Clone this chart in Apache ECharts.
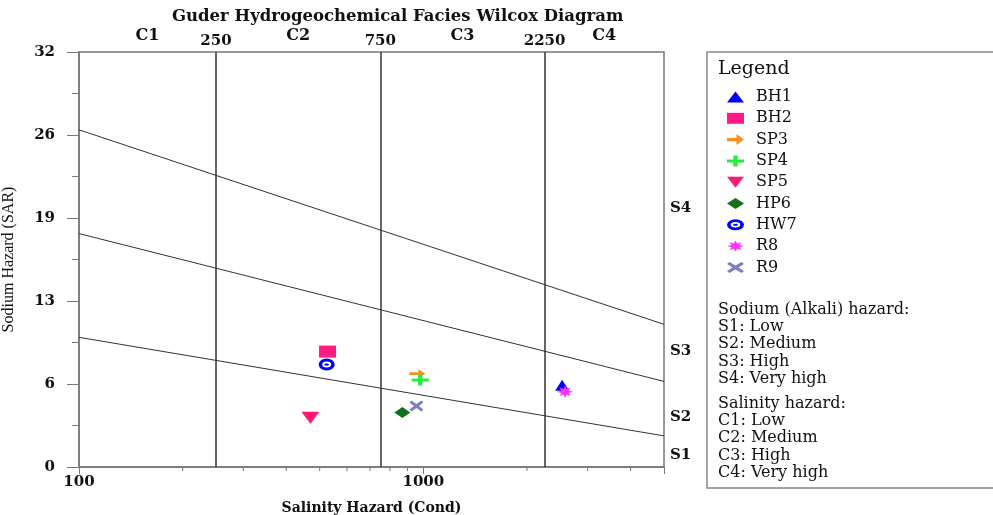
<!DOCTYPE html>
<html>
<head>
<meta charset="utf-8">
<title>Wilcox Diagram</title>
<script src="https://cdn.jsdelivr.net/npm/echarts@6/dist/echarts.min.js"></script>
<style>
html, body { margin: 0; padding: 0; background: #fff; }
#main { width: 993px; height: 515px; }
</style>
</head>
<body>
<div id="main"></div>
<script>
// samples: conductivity (x, log) and SAR (y)
var sampleNames = ['BH1', 'BH2', 'SP3', 'SP4', 'SP5', 'HP6', 'HW7', 'R8', 'R9'];
var sampleCond = [2530, 527, 961, 979, 470, 869, 524, 2580, 955];
var sampleSar = [6.3, 8.9, 7.2, 6.7, 3.8, 4.2, 7.9, 5.8, 4.7];

// salinity classes
var condRange = [100, 5000];
var salinityBounds = [250, 750, 2250];
var salinityZones = ['C1', 'C2', 'C3', 'C4'];

// sodium class boundaries: SAR at the left (100) and right (5000) ends
var sodiumLeft = [10, 18, 26];
var sodiumRight = [2.4, 6.6, 11];
var sodiumZones = ['S1', 'S2', 'S3', 'S4'];
var sodiumLabelSar = [0.9, 3.85, 8.9, 20];

// ticks
var yTickLabels = ['0', '6', '13', '19', '26', '32'];
var xMajorLabels = [100, 1000];
var xMinorTicks = [200, 300, 400, 500, 600, 700, 800, 900, 2000, 3000, 4000];

var serif = 'DejaVu Serif';
var ink = '#111';

// 8 point star
function starPath(n, r1, r2) {
    var d = 'path://';
    for (var i = 0; i < n * 2; i++) {
        var r = i % 2 ? r2 : r1;
        var a = Math.PI * i / n - Math.PI / 2;
        d += (i ? 'L' : 'M') + (10 + r * Math.cos(a)).toFixed(2) + ',' + (10 + r * Math.sin(a)).toFixed(2);
    }
    return d + 'Z';
}

var symbols = [
    'triangle',
    'rect',
    'path://M0,3.5 L9,3.5 L9,0 L16,5 L9,10 L9,6.5 L0,6.5 Z',
    'path://M6,0 L10,0 L10,4 L16,4 L16,7 L10,7 L10,11 L6,11 L6,7 L0,7 L0,4 L6,4 Z',
    'path://M0,0 L16,0 L8,11 Z',
    'diamond',
    'path://M8,0 A8,6 0 1,1 8,12 A8,6 0 1,1 8,0 Z M8,3 A4.5,3 0 1,0 8,9 A4.5,3 0 1,0 8,3 Z M8,5 A1.6,1.1 0 1,1 8,7 A1.6,1.1 0 1,1 8,5 Z',
    starPath(8, 10, 5),
    'path://M2,0 L7,3.5 L12,0 L14,2 L9.5,5.5 L14,9 L12,11 L7,7.5 L2,11 L0,9 L4.5,5.5 L0,2 Z'
];
var symbolSizes = [[14, 11], [17, 12], [16, 9], [17, 11], [18, 12], [16, 11], [16, 12], [16, 12], [14, 11]];
var colors = ['#0000ff', '#ff1a84', '#ff8a1f', '#22f03a', '#ff1a75', '#11701a', '#0000ff', '#ff33ff', '#7d7dc8'];

var myChart = echarts.init(document.getElementById('main'));

var series = [];

// sodium boundary lines
sodiumLeft.forEach(function (v, i) {
    series.push({
        type: 'line',
        silent: true,
        symbol: 'none',
        data: [[condRange[0], v], [condRange[1], sodiumRight[i]]],
        lineStyle: { color: '#333', width: 1 },
        z: 2
    });
});

// salinity boundary lines + their labels
series.push({
    type: 'line',
    data: [],
    silent: true,
    markLine: {
        silent: true,
        symbol: 'none',
        lineStyle: { color: '#333', width: 1.5, type: 'solid' },
        label: {
            show: true,
            position: 'end',
            distance: 3,
            fontFamily: serif,
            fontWeight: 'bold',
            fontSize: 15,
            color: ink,
            formatter: function (p) { return String(p.value); }
        },
        data: salinityBounds.map(function (b) { return { xAxis: b }; })
    }
});

// C zone labels (top)
var zoneEdges = [condRange[0]].concat(salinityBounds, [condRange[1]]);
series.push({
    type: 'scatter',
    silent: true,
    symbolSize: 0,
    itemStyle: { opacity: 1 },
    data: salinityZones.map(function (z, i) {
        return { value: [Math.sqrt(zoneEdges[i] * zoneEdges[i + 1]), 32], name: z };
    }),
    label: {
        show: true,
        position: 'top',
        distance: 8,
        formatter: '{b}',
        fontFamily: serif,
        fontWeight: 'bold',
        fontSize: 16,
        color: ink,
        opacity: 1
    },
    z: 5
});

// S zone labels (right)
series.push({
    type: 'scatter',
    silent: true,
    symbolSize: 0,
    itemStyle: { opacity: 1 },
    data: sodiumZones.map(function (z, i) {
        return { value: [condRange[1], sodiumLabelSar[i]], name: z };
    }),
    label: {
        show: true,
        position: 'right',
        distance: 6,
        formatter: '{b}',
        fontFamily: serif,
        fontWeight: 'bold',
        fontSize: 15,
        color: ink,
        opacity: 1
    },
    z: 5
});

// minor ticks on the log axis
series.push({
    type: 'custom',
    silent: true,
    data: xMinorTicks.map(function (v) { return [v, 0]; }),
    renderItem: function (params, api) {
        var p = api.coord([api.value(0), 0]);
        return {
            type: 'line',
            shape: { x1: p[0], y1: p[1], x2: p[0], y2: p[1] + 4 },
            style: { stroke: '#777', lineWidth: 1 }
        };
    },
    z: 3
});

// samples
sampleNames.forEach(function (name, i) {
    series.push({
        name: name,
        type: 'scatter',
        symbol: symbols[i],
        symbolSize: symbolSizes[i],
        symbolKeepAspect: false,
        itemStyle: { color: colors[i], opacity: 1 },
        data: [[sampleCond[i], sampleSar[i]]],
        z: 10
    });
});

myChart.setOption({
    animation: false,
    backgroundColor: '#fff',
    title: {
        text: 'Guder Hydrogeochemical Facies Wilcox Diagram',
        left: 172,
        top: 8,
        padding: 0,
        textStyle: { fontFamily: serif, fontWeight: 'bold', fontSize: 16.5, color: ink }
    },
    grid: {
        left: 79, top: 52, width: 585, height: 415,
        show: true,
        borderColor: '#777',
        borderWidth: 1.5,
        containLabel: false,
        outerBoundsMode: 'none'
    },
    legend: {
        data: sampleNames,
        orient: 'vertical',
        left: 727,
        top: 89,
        padding: 0,
        itemWidth: 17,
        itemHeight: 11,
        itemGap: 5.3,
        symbolKeepAspect: false,
        selectedMode: false,
        textStyle: { fontFamily: serif, fontSize: 16, color: ink, padding: [0, 0, 0, 7] }
    },
    graphic: [
        {
            type: 'rect',
            silent: true,
            shape: { x: 707, y: 52, width: 300, height: 436 },
            style: { fill: 'none', stroke: '#888', lineWidth: 1.5 }
        },
        {
            type: 'text',
            left: 718, top: 60,
            style: { text: 'Legend', font: '19px "DejaVu Serif"', fill: ink }
        },
        {
            type: 'text',
            left: 718, top: 301,
            style: {
                text: 'Sodium (Alkali) hazard:\nS1: Low\nS2: Medium\nS3: High\nS4: Very high',
                font: '16px "DejaVu Serif"', lineHeight: 17.3, fill: ink
            }
        },
        {
            type: 'text',
            left: 718, top: 395,
            style: {
                text: 'Salinity hazard:\nC1: Low\nC2: Medium\nC3: High\nC4: Very high',
                font: '16px "DejaVu Serif"', lineHeight: 17.3, fill: ink
            }
        }
    ],
    xAxis: {
        type: 'log',
        logBase: 10,
        min: condRange[0],
        max: condRange[1],
        name: 'Salinity Hazard (Cond)',
        nameLocation: 'middle',
        nameGap: 34,
        nameTextStyle: { fontFamily: serif, fontWeight: 'bold', fontSize: 14, color: ink },
        axisLine: { lineStyle: { color: '#777', width: 1.5 } },
        axisTick: { length: 7, lineStyle: { color: '#777' } },
        axisLabel: {
            margin: 8,
            fontFamily: serif,
            fontWeight: 'bold',
            fontSize: 15,
            color: ink,
            formatter: function (v) { return xMajorLabels.indexOf(Math.round(v)) > -1 ? String(Math.round(v)) : ''; }
        },
        splitLine: { show: false }
    },
    yAxis: {
        type: 'value',
        min: 0,
        max: 32,
        interval: 6.4,
        name: 'Sodium Hazard (SAR)',
        nameLocation: 'middle',
        nameGap: 62,
        nameTextStyle: { fontFamily: 'Liberation Serif', fontSize: 16, color: ink },
        axisLine: { show: true, lineStyle: { color: '#777', width: 1.5 } },
        axisTick: { show: true, length: 12, lineStyle: { color: '#777' } },
        minorTick: { show: true, splitNumber: 2, length: 7, lineStyle: { color: '#777' } },
        axisLabel: {
            margin: 24,
            fontFamily: serif,
            fontWeight: 'bold',
            fontSize: 15,
            color: ink,
            formatter: function (v) { return yTickLabels[Math.round(v / 6.4)]; }
        },
        splitLine: { show: false }
    },
    series: series
});
</script>
</body>
</html>
